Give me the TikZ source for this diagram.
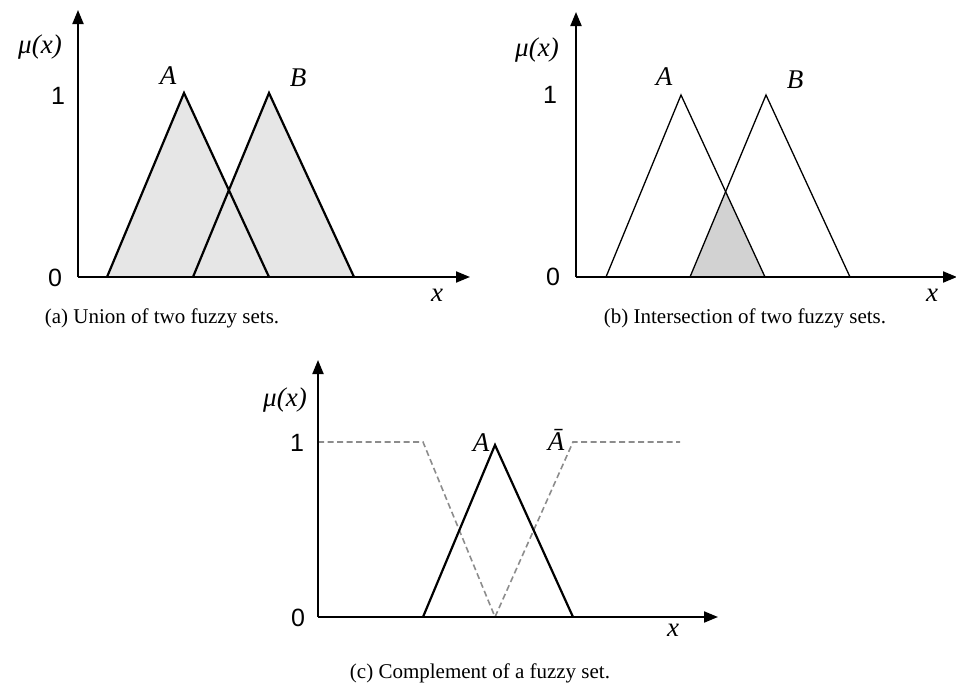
\documentclass[tikz,border=0pt]{standalone}
\usepackage{fontspec}
\setmainfont{Liberation Serif}
\setsansfont{Liberation Sans}
\usepackage{tikz}
\usetikzlibrary{arrows.meta,positioning,calc}
\definecolor{shadegray}{HTML}{E6E6E6}
\definecolor{darkshade}{HTML}{D2D2D2}
\definecolor{dashgray}{HTML}{8C8C8C}
\tikzset{
  axis/.style={
    -{Triangle[length=14pt,width=11pt]},
    line width=2pt,
    draw=black
  },
  boldset/.style={line width=2.2pt, draw=black, line join=miter},
  thinset/.style={line width=1.3pt, draw=black, line join=miter},
  unionfill/.style={fill=shadegray},
  meetfill/.style={fill=darkshade},
  compset/.style={line width=1.6pt, draw=dashgray, dash pattern=on 6pt off 3.5pt},
  tick/.style={font=\sffamily\fontsize{25}{28}\selectfont, inner sep=0pt},
  mathlbl/.style={font=\itshape\fontsize{27}{30}\selectfont, inner sep=0pt},
  caption/.style={font=\fontsize{21}{24}\selectfont, inner sep=0pt}
}

\begin{document}
\begin{tikzpicture}[x=1pt, y=-1pt]
  \useasboundingbox (0,0) rectangle (956,688);

  % (a) union
  \coordinate (oa) at (78,277);
  \coordinate (a1) at (107,277);
  \coordinate (a2) at (184,93);
  \coordinate (a3) at (269,277);
  \coordinate (b1) at (193,277);
  \coordinate (b2) at (269,93);
  \coordinate (b3) at (354,277);
  \fill[unionfill] (a1) -- (a2) -- (a3) -- cycle;
  \fill[unionfill] (b1) -- (b2) -- (b3) -- cycle;
  \draw[boldset] (a1) -- (a2) -- (a3);
  \draw[boldset] (b1) -- (b2) -- (b3);
  \draw[axis] (oa) -- (78,10);
  \draw[axis] (oa) -- (470,277);
  \node[mathlbl] (mua) at (40,47) {μ(x)};
  \node[tick] (onea) at (58,96) {1};
  \node[tick] (zeroa) at (55,278) {0};
  \node[mathlbl] (xa) at (437,295) {x};
  \node[mathlbl] (la) at (168,76) {A};
  \node[mathlbl] (lb) at (298,78) {B};
  \node[caption] (capa) at (162,318) {(a) Union of two fuzzy sets.};

  % (b) intersection
  \coordinate (ob) at (576,277);
  \coordinate (c1) at (606,277);
  \coordinate (c2) at (681,95);
  \coordinate (c3) at (765,277);
  \coordinate (d1) at (690,277);
  \coordinate (d2) at (766,95);
  \coordinate (d3) at (850,277);
  \coordinate (cross) at (intersection of c2--c3 and d1--d2);
  \fill[meetfill] (d1) -- (cross) -- (c3) -- cycle;
  \draw[thinset] (c1) -- (c2) -- (c3);
  \draw[thinset] (d1) -- (d2) -- (d3);
  \draw[axis] (ob) -- (576,12);
  \draw[axis] (ob) -- (957,277);
  \node[mathlbl] (mub) at (537,50) {μ(x)};
  \node[tick] (oneb) at (550,95) {1};
  \node[tick] (zerob) at (553,277) {0};
  \node[mathlbl] (xb) at (932,295) {x};
  \node[mathlbl] (lc) at (664,77) {A};
  \node[mathlbl] (ld) at (795,80) {B};
  \node[caption] (capb) at (745,318) {(b) Intersection of two fuzzy sets.};

  % (c) complement
  \coordinate (oc) at (318,617);
  \coordinate (e1) at (423,617);
  \coordinate (e2) at (495,445);
  \coordinate (e3) at (573,617);
  \coordinate (f1) at (318,442);
  \coordinate (f2) at (423,442);
  \coordinate (f3) at (495,617);
  \coordinate (f4) at (573,442);
  \coordinate (f5) at (680,442);
  \draw[compset] (f1) -- (f2) -- (f3) -- (f4) -- (f5);
  \draw[boldset] (e1) -- (e2) -- (e3);
  \draw[axis] (oc) -- (318,360);
  \draw[axis] (oc) -- (718,617);
  \node[mathlbl] (muc) at (285,400) {μ(x)};
  \node[tick] (onec) at (297,443) {1};
  \node[tick] (zeroc) at (298,618) {0};
  \node[mathlbl] (xc) at (673,630) {x};
  \node[mathlbl] (le) at (481,443) {A};
  \node[mathlbl] (lf) at (556,440) {\=A};
  \node[caption] (capc) at (480,673) {(c) Complement of a fuzzy set.};
\end{tikzpicture}
\end{document}
